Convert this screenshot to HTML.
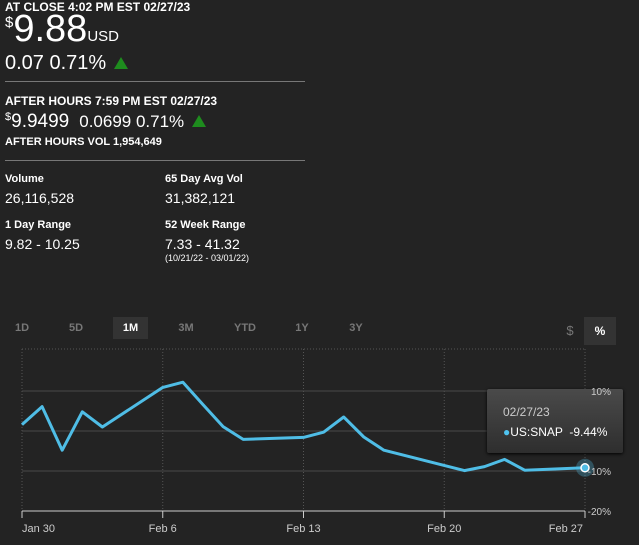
<!DOCTYPE html>
<html><head><meta charset="utf-8"><style>
body{margin:0;width:639px;height:545px;background:#232323;font-family:"Liberation Sans",sans-serif;color:#fff;position:relative;overflow:hidden}
.a{position:absolute;white-space:nowrap}
.hr{position:absolute;left:5px;width:300px;height:1px;background:#777}
.b{font-weight:bold}
.tri{display:inline-block;width:0;height:0;border-left:7px solid transparent;border-right:7px solid transparent;border-bottom:12px solid #1e8c1e;margin-left:8px}
.btn{position:absolute;top:317px;height:22px;line-height:22px;font-size:11px;font-weight:bold;color:#777;text-align:center}
</style></head><body>
<div class="a b" style="left:5px;top:0px;font-size:12px">AT CLOSE 4:02 PM EST 02/27/23</div>
<div class="a" style="left:5px;top:8px;font-size:38px"><span style="font-size:15px;vertical-align:top;position:relative;top:6px">$</span>9.88<span style="font-size:15px">USD</span></div>
<div class="a" style="left:5px;top:52px;font-size:20px">0.07 0.71%<span class="tri"></span></div>
<div class="hr" style="top:81px"></div>
<div class="a b" style="left:5px;top:94px;font-size:12px">AFTER HOURS 7:59 PM EST 02/27/23</div>
<div class="a" style="left:5px;top:111px;font-size:19px"><span style="font-size:11px;vertical-align:top">$</span>9.9499 <span style="font-size:17px">&nbsp;0.0699 0.71%</span><span class="tri"></span></div>
<div class="a b" style="left:5px;top:136px;font-size:11px">AFTER HOURS VOL 1,954,649</div>
<div class="hr" style="top:160px"></div>
<div class="a b" style="left:5px;top:173px;font-size:11px">Volume</div>
<div class="a" style="left:5px;top:190px;font-size:14px">26,116,528</div>
<div class="a b" style="left:165px;top:173px;font-size:11px">65 Day Avg Vol</div>
<div class="a" style="left:165px;top:190px;font-size:14px">31,382,121</div>
<div class="a b" style="left:5px;top:219px;font-size:11px">1 Day Range</div>
<div class="a" style="left:5px;top:236px;font-size:14px">9.82 - 10.25</div>
<div class="a b" style="left:165px;top:219px;font-size:11px">52 Week Range</div>
<div class="a" style="left:165px;top:236px;font-size:14px">7.33 - 41.32</div>
<div class="a" style="left:165px;top:253px;font-size:9px">(10/21/22 - 03/01/22)</div>

<div class="btn" style="left:8px;width:28px">1D</div>
<div class="btn" style="left:62px;width:28px">5D</div>
<div class="btn" style="left:113px;width:35px;background:#333;color:#fff">1M</div>
<div class="btn" style="left:172px;width:28px">3M</div>
<div class="btn" style="left:230px;width:30px">YTD</div>
<div class="btn" style="left:288px;width:28px">1Y</div>
<div class="btn" style="left:342px;width:28px">3Y</div>
<div class="btn" style="left:560px;width:20px;top:320px;font-size:13px;font-weight:normal">$</div>
<div class="btn" style="left:584px;width:32px;height:28px;line-height:28px;background:#333;color:#fff;font-size:12px">%</div>

<svg class="a" style="left:0;top:0" width="639" height="545" id="chart"></svg>

<div class="a" style="left:487px;top:389px;width:136px;height:64px;background:linear-gradient(#4a4a4a,#2e2e2e);box-shadow:0 1px 3px #000;border-radius:2px">
<div class="a" style="left:16px;top:16px;font-size:12px;color:#ccc">02/27/23</div>
<div class="a" style="left:16px;top:36px;font-size:12px;color:#fff"><span style="color:#4fc3f0">●</span>US:SNAP &nbsp;-9.44%</div>
</div>
<svg class="a" style="left:0;top:0;pointer-events:none" width="639" height="545" id="ylab"></svg>
<script>
const dayIdx=[0,1,2,3,4,7,8,9,10,11,14,15,16,17,18,22,23,24,25,28];
const values=[1.6,6.1,-4.8,4.8,1.0,10.9,12.2,6.6,1.1,-2.1,-1.6,-0.3,3.5,-1.5,-4.8,-9.9,-8.9,-7.1,-9.8,-9.2];
const yTicks=[10,0,-10,-20];
const yTickLabels=["10%","","-10%","-20%"];
const xTickDays=[0,7,14,21,28];
const xTickLabels=["Jan 30","Feb 6","Feb 13","Feb 20","Feb 27"];
const X0=22,X1=585,DMAX=28;
const xs=d=>X0+(X1-X0)*d/DMAX;
const ys=v=>431-4*v;
const svg=document.getElementById('chart');
const ylab=document.getElementById('ylab');
const NS='http://www.w3.org/2000/svg';
function mk(t,a,p){const e=document.createElementNS(NS,t);for(const k in a)e.setAttribute(k,a[k]);(p||svg).appendChild(e);return e;}
let e=mk('line',{x1:X0,x2:X1,y1:349,y2:349,stroke:'#555','stroke-dasharray':'1,2'});


xTickDays.forEach((d,i)=>{
 const x=xs(d);
 let g=mk('line',{x1:x,x2:x,y1:349,y2:511,stroke:'#555','stroke-dasharray':'1,2'});
 
 
 let t=mk('line',{x1:x,x2:x,y1:511,y2:518,stroke:'#ccc'});
 
 
 let l=mk('text',{x:i==0?x:(i==xTickDays.length-1?x-2:x),y:532,fill:'#ccc','font-size':11,'text-anchor':i==0?'start':(i==xTickDays.length-1?'end':'middle'),'font-family':'Liberation Sans'});
 l.textContent=xTickLabels[i];
 
 
});
yTicks.forEach((v,i)=>{
 const y=ys(v);
 if(v>-20){let g=mk('line',{x1:X0,x2:X1,y1:y,y2:y,stroke:'#4a4a4a'});
 
 }
 let l=mk('text',{x:611,y:y+4,fill:'#ccc','font-size':10,'text-anchor':'end','font-family':'Liberation Sans'},ylab);
 l.textContent=yTickLabels[i];
 
 
});
let ax=mk('line',{x1:X0,x2:X1,y1:511,y2:511,stroke:'#ccc'});


const pts=values.map((v,i)=>xs(dayIdx[i]).toFixed(1)+','+ys(v).toFixed(1)).join(' ');
let pl=mk('polyline',{points:pts,fill:'none',stroke:'#4fbde6','stroke-width':3,'stroke-linejoin':'round'});


const li=values.length-1;
let h=mk('circle',{cx:xs(dayIdx[li]),cy:ys(values[li]),r:9,fill:'#4fbde6','fill-opacity':0.3});


let c=mk('circle',{cx:xs(dayIdx[li]),cy:ys(values[li]),r:4,fill:'#4fbde6',stroke:'#fff','stroke-width':1.5});


</script>
</body></html>
